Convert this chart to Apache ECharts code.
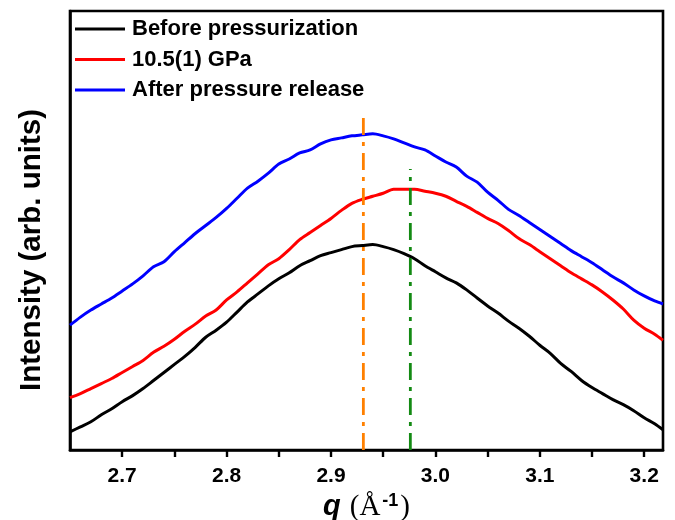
<!DOCTYPE html>
<html>
<head>
<meta charset="utf-8">
<script src="https://cdn.jsdelivr.net/npm/echarts@6/dist/echarts.min.js"></script>
<style>
  html, body { margin: 0; padding: 0; background: #fff; }
  #chart { width: 675px; height: 520px; }
</style>
</head>
<body>
<div id="chart"></div>
<script>
// Scattering vector q (1/Å), sampled every 0.01
const qValues = [
  2.65, 2.66, 2.67, 2.68, 2.69, 2.70, 2.71, 2.72, 2.73, 2.74,
  2.75, 2.76, 2.77, 2.78, 2.79, 2.80, 2.81, 2.82, 2.83, 2.84,
  2.85, 2.86, 2.87, 2.88, 2.89, 2.90, 2.91, 2.92, 2.93, 2.94,
  2.95, 2.96, 2.97, 2.98, 2.99, 3.00, 3.01, 3.02, 3.03, 3.04,
  3.05, 3.06, 3.07, 3.08, 3.09, 3.10, 3.11, 3.12, 3.13, 3.14,
  3.15, 3.16, 3.17, 3.18, 3.19, 3.20, 3.21, 3.218
];

// Intensities (arb. units), curves offset vertically
const beforePressurization = [
  18, 23, 28, 35, 41, 48, 54, 61, 69, 77,
  85, 93, 102, 112, 119, 127, 137, 147, 155, 163,
  170, 176, 183, 188, 193, 196, 199, 202, 203, 204,
  202, 199, 195, 190, 183, 177, 171, 166, 159, 151,
  143, 136, 128, 121, 113, 104, 96, 86, 78, 69,
  62, 56, 50, 45, 39, 32, 26, 20
];
const at10_5GPa = [
  52, 56, 61, 66, 71, 77, 83, 89, 97, 103,
  110, 118, 125, 133, 139, 149, 157, 166, 175, 184,
  190, 199, 209, 216, 223, 230, 238, 245, 249, 252,
  255, 259, 259, 259, 257, 255, 252, 247, 242, 236,
  230, 225, 218, 210, 204, 197, 190, 183, 176, 170,
  164, 157, 149, 140, 129, 121, 115, 109
];
const afterRelease = [
  124, 132, 139, 145, 151, 158, 165, 173, 182, 187,
  197, 206, 215, 223, 231, 240, 250, 260, 267, 275,
  284, 289, 295, 298, 304, 308, 310, 312, 313, 314,
  312, 309, 305, 301, 298, 292, 286, 281, 272, 266,
  256, 248, 239, 233, 226, 219, 212, 205, 198, 192,
  186, 179, 172, 166, 159, 153, 148, 145
];

// Peak position markers: [q, top of marker]
const peakBefore = [2.931, 332];
const peakPressurized = [2.976, 279];

const seriesNames = ['Before pressurization', '10.5(1) GPa', 'After pressure release'];
const seriesColors = ['#000000', '#ff0000', '#0000ff'];

const pair = (ys) => qValues.map((q, i) => [q, ys[i]]);

const chart = echarts.init(document.getElementById('chart'), null, { renderer: 'canvas' });

const curve = (name, ys, color) => ({
  name: name,
  type: 'line',
  data: pair(ys),
  symbol: 'none',
  smooth: 0.3,
  lineStyle: { color: color, width: 3 },
  itemStyle: { color: color },
  z: 3
});

const marker = (p, color) => ({
  type: 'line',
  data: [[p[0], 0], [p[0], p[1]]],
  symbol: 'none',
  silent: true,
  lineStyle: { color: color, width: 2.8, type: [17, 7, 4, 7], cap: 'butt' },
  z: 4
});

const sans = 'Liberation Sans, Arial, sans-serif';
const serif = 'Liberation Serif, Times New Roman, serif';

chart.setOption({
  animation: false,
  backgroundColor: '#ffffff',
  grid: {
    left: 70, right: 12, top: 11, bottom: 70,
    outerBoundsMode: 'none',
    containLabel: false,
    show: true, borderColor: '#000', borderWidth: 2.6, backgroundColor: 'transparent'
  },
  legend: {
    data: seriesNames,
    orient: 'vertical',
    left: 75, top: 18,
    padding: 0,
    itemWidth: 50, itemHeight: 3,
    itemGap: 8.5,
    icon: 'rect',
    textStyle: { fontFamily: sans, fontWeight: 'bold', fontSize: 22, color: '#000', padding: [0, 0, 0, 2] }
  },
  xAxis: {
    type: 'value',
    min: 2.65, max: 3.218,
    interval: 0.05,
    axisLine: { show: true, lineStyle: { color: '#000', width: 2.6 } },
    axisTick: { show: true, inside: false, length: 7, lineStyle: { color: '#000', width: 2.4 } },
    splitLine: { show: false },
    axisLabel: {
      margin: 16,
      color: '#000',
      fontFamily: sans,
      fontWeight: 'bold',
      fontSize: 21,
      showMinLabel: false,
      showMaxLabel: false,
      formatter: (v) => (Math.round(v * 100) % 10 === 0 ? v.toFixed(1) : '')
    },
    name: '{q|q}{p|(Å}{s|-1}{p|)}',
    nameLocation: 'middle',
    nameGap: 42,
    nameTextStyle: {
      rich: {
        q: { fontFamily: sans, fontWeight: 'bold', fontStyle: 'italic', fontSize: 29, color: '#000', padding: [0, 9, 0, 0] },
        p: { fontFamily: serif, fontSize: 29, color: '#000' },
        s: { fontFamily: sans, fontWeight: 'bold', fontSize: 18, color: '#000', verticalAlign: 'top', padding: [0, 2, 12, 2] }
      }
    }
  },
  yAxis: {
    type: 'value',
    min: 0, max: 436,
    axisLine: { show: true, lineStyle: { color: '#000', width: 2.6 } },
    axisTick: { show: false },
    axisLabel: { show: false },
    splitLine: { show: false },
    name: 'Intensity (arb. units)',
    nameLocation: 'middle',
    nameGap: 23,
    nameTextStyle: {
      fontFamily: sans,
      fontWeight: 'bold',
      fontSize: 29.5,
      color: '#000',
      padding: [0, 39, 0, 0]
    }
  },
  series: [
    curve(seriesNames[0], beforePressurization, seriesColors[0]),
    curve(seriesNames[1], at10_5GPa, seriesColors[1]),
    curve(seriesNames[2], afterRelease, seriesColors[2]),
    marker(peakBefore, '#ff8000'),
    marker(peakPressurized, '#138a13')
  ]
});
</script>
</body>
</html>
